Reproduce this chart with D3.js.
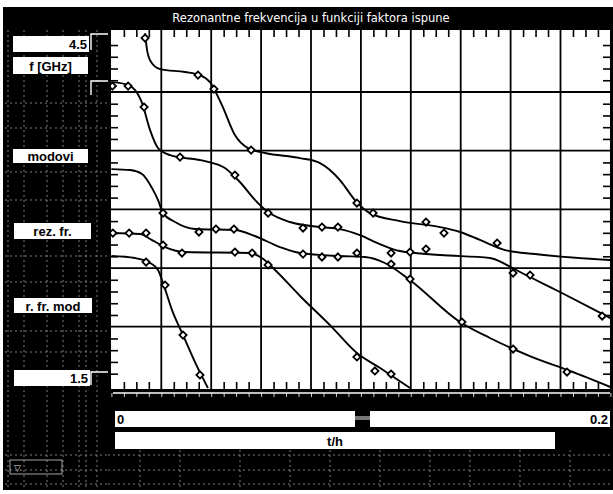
<!DOCTYPE html>
<html>
<head>
<meta charset="utf-8">
<script src="https://cdn.jsdelivr.net/npm/d3@7"></script>
<style>
  body { margin: 0; background: #fff; }
  svg { display: block; }
  .lbl { font-family: "Liberation Sans", Arial, sans-serif; font-weight: bold; font-size: 13px; fill: #000; }
</style>
</head>
<body>
<div id="chart"></div>
<script>
// t/h (x) and f [GHz] (y)
const title = "Rezonantne frekvencija u funkciji faktora ispune";
const xLabel = "t/h";
const yLabel = "f [GHz]";
const xMin = 0, xMax = 0.2;
const yMin = 1.5, yMax = 4.5;
const sideLabels = ["modovi", "rez. fr.", "r. fr. mod"];

// fitted curves (modes)
const mode1 = [[0.0135,4.50],[0.0143,4.357],[0.0159,4.255],[0.0195,4.195],[0.0295,4.170],[0.0355,4.144],[0.0395,4.084],[0.0443,3.888],[0.0495,3.633],[0.0547,3.522],[0.0616,3.480],[0.0756,3.437],[0.0836,3.394],[0.0916,3.250],[0.0976,3.079],[0.1036,2.968],[0.1156,2.900],[0.1317,2.849],[0.1397,2.807],[0.1477,2.739],[0.1578,2.653],[0.1698,2.619],[0.2,2.568]];
const mode2 = [[0,4.084],[0.0055,4.067],[0.0095,4.016],[0.0123,3.905],[0.0155,3.675],[0.0187,3.522],[0.0235,3.462],[0.0375,3.411],[0.0455,3.352],[0.0515,3.233],[0.0576,3.079],[0.0628,2.977],[0.0716,2.892],[0.0836,2.849],[0.0916,2.832],[0.0996,2.781],[0.1076,2.704],[0.1156,2.645],[0.1317,2.611],[0.1517,2.585],[0.1578,2.534],[0.1638,2.466],[0.1798,2.296],[0.2,2.074]];
const mode3 = [[0,3.343],[0.0075,3.335],[0.0123,3.301],[0.0163,3.181],[0.0187,3.079],[0.0207,2.968],[0.0255,2.892],[0.0335,2.832],[0.0495,2.824],[0.0575,2.773],[0.0675,2.679],[0.0756,2.628],[0.0916,2.602],[0.1016,2.594],[0.1096,2.543],[0.1196,2.398],[0.1397,2.040],[0.1517,1.904],[0.1677,1.750],[0.1838,1.623],[0.2,1.486]];
const mode4 = [[0,2.798],[0.0115,2.790],[0.0163,2.738],[0.0215,2.679],[0.0295,2.636],[0.0556,2.628],[0.0603,2.585],[0.0656,2.483],[0.0756,2.262],[0.0876,2.014],[0.0984,1.776],[0.1077,1.648],[0.1197,1.478]];
const mode5 = [[0,2.602],[0.0095,2.585],[0.0155,2.543],[0.0187,2.483],[0.0207,2.372],[0.0243,2.142],[0.0287,1.929],[0.0335,1.699],[0.0387,1.478]];

// measured points
const meas1 = [[0.0135,4.459],[0.0347,4.144],[0.0411,4.025],[0.0560,3.505],[0.0984,3.054],[0.1049,2.968],[0.1261,2.892],[0.1333,2.798],[0.1546,2.713]];
const meas2 = [[0.0004,4.050],[0.0067,4.050],[0.0131,3.871],[0.0275,3.445],[0.0495,3.292],[0.0628,2.968],[0.0768,2.841],[0.0844,2.849],[0.0908,2.849],[0.1121,2.628],[0.1197,2.636],[0.1261,2.662],[0.1610,2.457],[0.1678,2.440],[0.1967,2.091]];
const meas3 = [[0.0207,2.968],[0.0351,2.807],[0.0419,2.832],[0.0491,2.832],[0.0768,2.619],[0.0844,2.594],[0.0908,2.594],[0.0984,2.628],[0.1121,2.534],[0.1197,2.406],[0.1405,2.040],[0.1610,1.810],[0.1826,1.614]];
const meas4 = [[0.0006,2.798],[0.0071,2.798],[0.0139,2.798],[0.0207,2.696],[0.0283,2.628],[0.0495,2.636],[0.0564,2.628],[0.0628,2.526],[0.0984,1.742],[0.1056,1.623],[0.1121,1.597]];
const meas5 = [[0.0139,2.551],[0.0215,2.355],[0.0287,1.929],[0.0355,1.589]];

const modes = [mode1, mode2, mode3, mode4, mode5];
const measured = [meas1, meas2, meas3, meas4, meas5];

const W = 613, H = 494;
const frame = { left: 111, right: 610, top: 30, bottom: 389 };

const svg = d3.select("#chart").append("svg")
  .attr("width", W).attr("height", H);

// panel background
svg.append("rect").attr("x", 3).attr("y", 7).attr("width", W - 3).attr("height", 483).attr("fill", "#000");

// faint panel grid pattern (scan look)
const deco = svg.append("g").attr("stroke", "#a0a0a0").attr("stroke-width", 0.8).attr("stroke-dasharray", "2,3");
[8, 24, 47, 63, 79, 86, 97].forEach(x => deco.append("line").attr("x1", x).attr("x2", x).attr("y1", 30).attr("y2", 488));
[103, 128, 172, 200, 256, 282, 331, 352, 455, 470, 484].forEach(y => deco.append("line").attr("x1", 5).attr("x2", 108).attr("y1", y).attr("y2", y));
[455, 470, 484].forEach(y => deco.append("line").attr("x1", 108).attr("x2", 612).attr("y1", y).attr("y2", y));
[140, 180, 240, 290, 330, 380, 430, 470, 520, 570].forEach(x => deco.append("line").attr("x1", x).attr("x2", x).attr("y1", 450).attr("y2", 488));

// title
svg.append("text")
  .attr("x", 311).attr("y", 22)
  .attr("text-anchor", "middle")
  .attr("font-family", "DejaVu Sans, sans-serif")
  .attr("font-size", 11.5)
  .attr("fill", "#fff")
  .text(title);

const x = d3.scaleLinear().domain([xMin, xMax]).range([111.4, 610.4]);
const y = d3.scaleLinear().domain([yMin, yMax]).range([385.4, 33.3]);

// plot area
svg.append("rect")
  .attr("x", frame.left).attr("y", frame.top)
  .attr("width", frame.right - frame.left).attr("height", frame.bottom - frame.top)
  .attr("fill", "#fff");

svg.append("clipPath").attr("id", "clip")
  .append("rect")
  .attr("x", frame.left).attr("y", frame.top)
  .attr("width", frame.right - frame.left).attr("height", frame.bottom - frame.top);

const plot = svg.append("g").attr("clip-path", "url(#clip)");

// major grid
const xMajor = d3.range(1, 10).map(i => i * 0.02);
const yMajor = [2.0, 2.5, 3.0, 3.5, 4.0];
plot.selectAll(".gx").data(xMajor).enter().append("line")
  .attr("x1", d => x(d)).attr("x2", d => x(d))
  .attr("y1", frame.top).attr("y2", frame.bottom)
  .attr("stroke", "#000").attr("stroke-width", 1.8);
plot.selectAll(".gy").data(yMajor).enter().append("line")
  .attr("x1", frame.left).attr("x2", frame.right)
  .attr("y1", d => y(d)).attr("y2", d => y(d))
  .attr("stroke", "#000").attr("stroke-width", 1.8);

// minor ticks, inside the frame
const xMinor = d3.range(1, 40).map(i => i * 0.005).filter((d, i) => (i + 1) % 4 !== 0);
const yMinor = d3.range(1, 30).map(i => 1.5 + i * 0.1).filter((d, i) => (i + 1) % 5 !== 0);
const tickLen = 7;
plot.append("g").attr("transform", `translate(0,${frame.bottom})`)
  .call(d3.axisTop(x).tickValues(xMinor).tickSize(tickLen).tickFormat(""))
  .call(g => g.select(".domain").remove())
  .call(g => g.selectAll("line").attr("stroke-width", 1.6));
plot.append("g").attr("transform", `translate(0,${frame.top})`)
  .call(d3.axisBottom(x).tickValues(xMinor).tickSize(tickLen).tickFormat(""))
  .call(g => g.select(".domain").remove())
  .call(g => g.selectAll("line").attr("stroke-width", 1.6));
plot.append("g").attr("transform", `translate(${frame.left},0)`)
  .call(d3.axisRight(y).tickValues(yMinor).tickSize(tickLen).tickFormat(""))
  .call(g => g.select(".domain").remove())
  .call(g => g.selectAll("line").attr("stroke-width", 1.6));
plot.append("g").attr("transform", `translate(${frame.right},0)`)
  .call(d3.axisLeft(y).tickValues(yMinor).tickSize(tickLen).tickFormat(""))
  .call(g => g.select(".domain").remove())
  .call(g => g.selectAll("line").attr("stroke-width", 1.6));

// curves
const line = d3.line().x(d => x(d[0])).y(d => y(d[1])).curve(d3.curveMonotoneX);
plot.selectAll(".mode").data(modes).enter().append("path")
  .attr("d", line)
  .attr("fill", "none")
  .attr("stroke", "#000")
  .attr("stroke-width", 1.9);

// markers: small rotated squares with a light centre
const marker = d3.symbol().type(d3.symbolSquare).size(26);
measured.forEach(pts => {
  plot.append("g").selectAll("path").data(pts).enter().append("path")
    .attr("transform", d => `translate(${x(d[0])},${y(d[1])}) rotate(45)`)
    .attr("d", marker)
    .attr("fill", "#fff")
    .attr("stroke", "#000")
    .attr("stroke-width", 1.8);
});

// y-range sliders
const sl = svg.append("g").attr("stroke", "#fff").attr("stroke-width", 1.4).attr("fill", "none");
sl.append("path").attr("d", "M91,50 V34 H108");
sl.append("path").attr("d", "M91,95 V81 H108");
sl.append("path").attr("d", "M91,385 V372 H108");

// left panel boxes
function box(x0, y0, w, h, txt, anchor, size) {
  svg.append("rect").attr("x", x0).attr("y", y0).attr("width", w).attr("height", h).attr("fill", "#fff");
  const tx = anchor === "end" ? x0 + w - 2 : anchor === "start" ? x0 + 2 : x0 + w / 2;
  svg.append("text").attr("class", "lbl")
    .attr("x", tx).attr("y", y0 + h / 2 + 5)
    .attr("text-anchor", anchor)
    .attr("font-size", size || 13)
    .text(txt);
}
box(13, 36, 76, 16, d3.format(".1f")(yMax), "end", 14);
box(13, 57, 75, 17, yLabel, "middle", 14);
box(13, 149, 75, 14, sideLabels[0], "middle", 14);
box(14, 223, 77, 16, sideLabels[1], "middle", 14);
box(14, 298, 78, 15, sideLabels[2], "middle", 14);
box(14, 370, 76, 16, d3.format(".1f")(yMin), "end", 14);

// bottom ruler under the plot
svg.append("line").attr("x1", 113).attr("x2", 610).attr("y1", 393).attr("y2", 393)
  .attr("stroke", "#fff").attr("stroke-width", 1.4);
svg.append("g").attr("transform", "translate(0,393)")
  .call(d3.axisBottom(x).tickValues(d3.range(0, 41).map(i => i * 0.005)).tickSize(4).tickFormat(""))
  .call(g => g.select(".domain").remove())
  .call(g => g.selectAll("line").attr("stroke", "#fff").attr("stroke-width", 0.8));

// x-range boxes
box(115, 411, 240, 16, String(xMin), "start", 14);
box(370, 411, 240, 16, String(xMax), "end", 14);
svg.append("rect").attr("x", 355).attr("y", 416).attr("width", 15).attr("height", 4).attr("fill", "#777");
box(115, 432, 440, 17, xLabel, "middle", 13);

// small tool icon, bottom left
svg.append("rect").attr("x", 10).attr("y", 460).attr("width", 52).attr("height", 14)
  .attr("fill", "none").attr("stroke", "#ccc").attr("stroke-width", 0.8);
svg.append("text").attr("x", 14).attr("y", 471).attr("fill", "#ddd")
  .attr("font-family", "DejaVu Sans, sans-serif").attr("font-size", 9).text("▽");
</script>
</body>
</html>
